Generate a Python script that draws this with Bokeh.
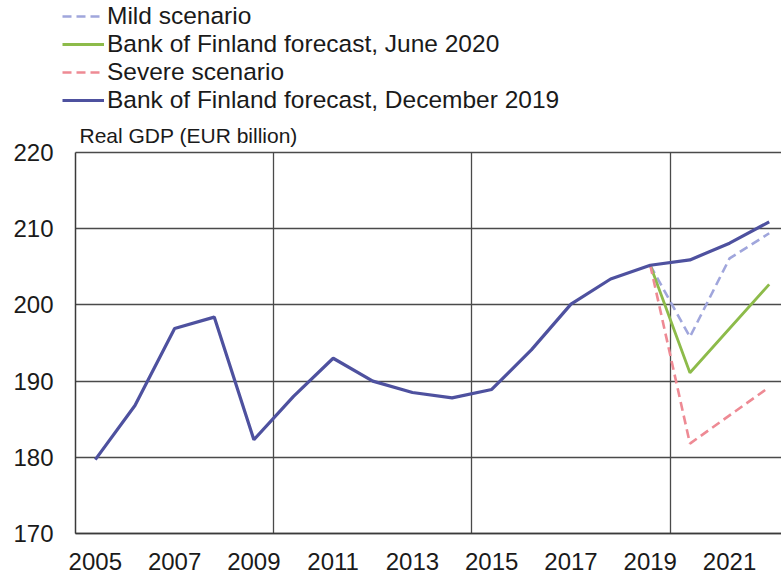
from bokeh.plotting import figure
from bokeh.models import Range1d, FixedTicker, Legend, LegendItem, Label, Grid
from bokeh.embed import file_html
from bokeh.resources import INLINE

# ---- data ----
years_dec = [2005, 2006, 2007, 2008, 2009, 2010, 2011, 2012, 2013, 2014,
             2015, 2016, 2017, 2018, 2019, 2020, 2021, 2022]
gdp_dec2019 = [179.7, 186.8, 196.9, 198.4, 182.3, 188.0, 193.0, 190.0, 188.5, 187.8,
               188.9, 194.1, 200.1, 203.4, 205.2, 205.9, 208.1, 210.9]

years_scen = [2019, 2020, 2021, 2022]
gdp_mild = [205.2, 195.8, 206.1, 209.4]
gdp_june2020 = [205.2, 191.1, 196.9, 202.7]
gdp_severe = [205.2, 181.8, 185.5, 189.2]

x_tick_years = [2005, 2007, 2009, 2011, 2013, 2015, 2017, 2019, 2021]
y_ticks = [170, 180, 190, 200, 210, 220]
x_grid_positions = [2009.5, 2014.5, 2019.5]

FONT = "Liberation Sans"

# ---- layout geometry (pixels) ----
W, H = 781, 576
PLOT_LEFT_PX = 75          # where the plotting box starts
PLOT_TOP_PX = 152          # where the 220 line sits
PLOT_BOTTOM_PX = 533       # where the 170 line sits
PX_PER_YEAR = 39.64
px_per_unit = (PLOT_BOTTOM_PX - PLOT_TOP_PX) / (y_ticks[-1] - y_ticks[0])

x_left = 2004.5
x_start = x_left - PLOT_LEFT_PX / PX_PER_YEAR
x_end = x_left + (W - PLOT_LEFT_PX) / PX_PER_YEAR
y_top = y_ticks[-1] + PLOT_TOP_PX / px_per_unit
y_bottom = y_ticks[0] - (H - PLOT_BOTTOM_PX) / px_per_unit

p = figure(width=W, height=H,
           min_border=0,
           x_range=Range1d(x_start, x_end),
           y_range=Range1d(y_bottom, y_top),
           output_backend="svg", toolbar_location=None)

p.outline_line_color = None
p.background_fill_color = "white"
p.border_fill_color = "white"

# axes (drawn inside the canvas at the plotting box edges)
p.xaxis.ticker = FixedTicker(ticks=x_tick_years)
p.yaxis.ticker = FixedTicker(ticks=y_ticks)
p.xaxis.bounds = (x_left, x_end)
p.yaxis.bounds = (y_ticks[0], y_ticks[-1])
p.xaxis.fixed_location = y_ticks[0]
p.yaxis.fixed_location = x_left
for ax in (p.xaxis[0], p.yaxis[0]):
    ax.major_tick_in = 0
    ax.major_tick_out = 0
    ax.minor_tick_in = 0
    ax.minor_tick_out = 0
    ax.axis_line_color = "#3a3a3a"
    ax.axis_line_width = 1.5
    ax.major_label_text_font = FONT
    ax.major_label_text_font_size = "24px"
    ax.major_label_text_color = "#1a1a1a"
p.xaxis.major_label_standoff = 19
p.yaxis.major_label_standoff = 22

# grids, limited to the plotting box
GRID_COLOR = "#4a4a4a"
if "cross_bounds" in Grid.properties():
    p.ygrid.ticker = FixedTicker(ticks=y_ticks)
    p.ygrid.cross_bounds = (x_left, x_end)
    p.xgrid.ticker = FixedTicker(ticks=x_grid_positions)
    p.xgrid.cross_bounds = (y_ticks[0], y_ticks[-1])
    for g in (p.xgrid[0], p.ygrid[0]):
        g.grid_line_color = GRID_COLOR
        g.grid_line_width = 1.3
else:
    p.xgrid.visible = False
    p.ygrid.visible = False
    p.segment(x0=[x_left] * len(y_ticks), y0=y_ticks,
              x1=[x_end] * len(y_ticks), y1=y_ticks,
              line_color=GRID_COLOR, line_width=1.3)
    p.segment(x0=x_grid_positions, y0=[y_ticks[0]] * len(x_grid_positions),
              x1=x_grid_positions, y1=[y_ticks[-1]] * len(x_grid_positions),
              line_color=GRID_COLOR, line_width=1.3)

# lines
r_mild = p.line(years_scen, gdp_mild, line_color="#a0a6dc", line_width=2.6,
                line_dash="9 5")
r_june = p.line(years_scen, gdp_june2020, line_color="#8dbb4a", line_width=2.8)
r_severe = p.line(years_scen, gdp_severe, line_color="#ee8a94", line_width=2.6,
                  line_dash="9 5")
r_dec = p.line(years_dec, gdp_dec2019, line_color="#4e519f", line_width=3.2)

# axis title
p.add_layout(Label(x=x_left, y=y_ticks[-1], x_offset=4, y_offset=17,
                   text="Real GDP (EUR billion)", text_font=FONT,
                   text_font_size="21px", text_color="#1a1a1a",
                   text_baseline="alphabetic", text_align="left"))

legend = Legend(items=[
    LegendItem(label="Mild scenario", renderers=[r_mild]),
    LegendItem(label="Bank of Finland forecast, June 2020", renderers=[r_june]),
    LegendItem(label="Severe scenario", renderers=[r_severe]),
    LegendItem(label="Bank of Finland forecast, December 2019", renderers=[r_dec]),
], location=(62, H - 114), orientation="vertical",
    label_text_font=FONT, label_text_font_size="24.5px",
    label_text_color="#1a1a1a",
    glyph_width=42, glyph_height=26, label_height=26, label_standoff=3,
    spacing=0, padding=0, margin=0,
    border_line_color=None, background_fill_alpha=0)
p.add_layout(legend)

open("out.html", "w").write(file_html(p, INLINE))
